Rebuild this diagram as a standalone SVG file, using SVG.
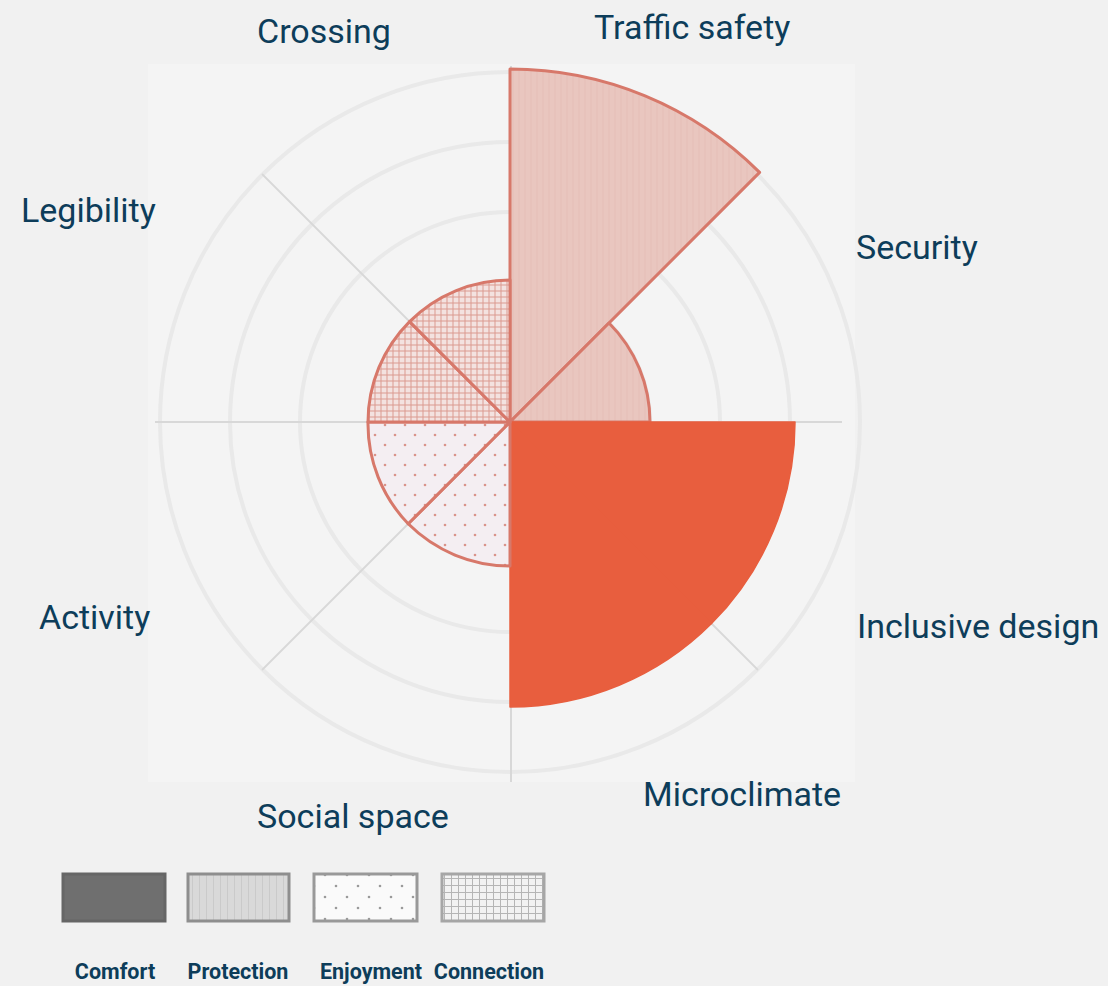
<svg xmlns="http://www.w3.org/2000/svg" width="1108" height="986" viewBox="0 0 1108 986">
<defs>
<style>
.lbl{font-family:Roboto,"Liberation Sans",sans-serif;font-size:34px;fill:#0d3d5a}
.leg{font-family:Roboto,"Liberation Sans",sans-serif;font-size:21.5px;font-weight:bold;fill:#0d3d5a;text-anchor:middle}
.ring{fill:none;stroke:#e9e9e9;stroke-width:4}
.axis{stroke:#d8d8d8;stroke-width:2}
.sec{stroke:#d7786a;stroke-width:3;stroke-linejoin:round}
.comfort{fill:#e85e3e;stroke:#e85e3e;stroke-width:1.5;stroke-linejoin:round}
.legbox{stroke-width:3}
</style>
<pattern id="pProt" width="6" height="6" patternUnits="userSpaceOnUse">
<rect width="6" height="6" fill="#e9c6bf"/>
<line x1="3" y1="0" x2="3" y2="6" stroke="#e5bfb7" stroke-width="1"/>
</pattern>
<pattern id="pEnj" width="20" height="20" patternUnits="userSpaceOnUse">
<rect width="20" height="20" fill="#f4eef2"/>
<circle cx="5" cy="5" r="1.3" fill="#d9938a"/>
<circle cx="15" cy="15" r="1.3" fill="#d9938a"/>
</pattern>
<pattern id="pCon" width="6" height="6" patternUnits="userSpaceOnUse">
<rect width="6" height="6" fill="#f3e2e0"/>
<path d="M3 0V6M0 3H6" stroke="#dc9a91" stroke-width="1"/>
</pattern>
<pattern id="lProt" width="7" height="7" patternUnits="userSpaceOnUse">
<rect width="7" height="7" fill="#d9d9d9"/>
<line x1="3.5" y1="0" x2="3.5" y2="7" stroke="#cacaca" stroke-width="1"/>
</pattern>
<pattern id="lEnj" width="22" height="22" patternUnits="userSpaceOnUse">
<rect width="22" height="22" fill="#fafafa"/>
<circle cx="6" cy="6" r="1.3" fill="#9a9a9a"/>
<circle cx="17" cy="17" r="1.3" fill="#9a9a9a"/>
</pattern>
<pattern id="lCon" width="7" height="7" patternUnits="userSpaceOnUse">
<rect width="7" height="7" fill="#f2f2f2"/>
<path d="M3.5 0V7M0 3.5H7" stroke="#b5b5b5" stroke-width="1"/>
</pattern>
</defs>
<rect width="1108" height="986" fill="#f1f1f1"/>
<rect x="148" y="64" width="707" height="718" fill="#f4f4f4"/>

<g id="grid">
<circle class="ring" cx="510" cy="422" r="70"/>
<circle class="ring" cx="510" cy="422" r="140"/>
<circle class="ring" cx="510" cy="422" r="210"/>
<circle class="ring" cx="510" cy="422" r="280"/>
<circle class="ring" cx="510" cy="422" r="350"/>
<line class="axis" x1="155" y1="422" x2="842" y2="422"/>
<line class="axis" x1="511" y1="66" x2="511" y2="782"/>
<line class="axis" x1="262" y1="174" x2="758" y2="670"/>
<line class="axis" x1="262" y1="670" x2="758" y2="174"/>
</g>

<g id="connectors"></g>

<g id="sector-traffic-safety"><path class="sec" fill="url(#pProt)" d="M510 422 L510 69 A353 353 0 0 1 759.6 172.4 Z"/></g>
<g id="sector-security"><path class="sec" fill="url(#pProt)" d="M510 422 L609 323 A140 140 0 0 1 650 422 Z"/></g>
<g id="sector-inclusive-design"><path class="comfort" d="M510 422 L795 422 A285 285 0 0 1 711.5 623.5 Z"/></g>
<g id="sector-microclimate"><path class="comfort" d="M510 422 L711.5 623.5 A285 285 0 0 1 510 707 Z"/></g>
<g id="sector-social-space"><path class="sec" fill="url(#pEnj)" d="M510 422 L510 566 A144 144 0 0 1 408.2 523.8 Z"/></g>
<g id="sector-activity"><path class="sec" fill="url(#pEnj)" d="M510 422 L408.2 523.8 A144 144 0 0 1 368 422 Z"/></g>
<g id="sector-legibility"><path class="sec" fill="url(#pCon)" d="M510 422 L368 422 A142 142 0 0 1 409.6 321.6 Z"/></g>
<g id="sector-crossing"><path class="sec" fill="url(#pCon)" d="M510 422 L409.6 321.6 A142 142 0 0 1 510 280 Z"/></g>

<g id="labels">
<text class="lbl" x="257" y="43">Crossing</text>
<text class="lbl" x="594" y="39">Traffic safety</text>
<text class="lbl" x="21" y="222">Legibility</text>
<text class="lbl" x="856" y="259">Security</text>
<text class="lbl" x="39" y="629">Activity</text>
<text class="lbl" x="857" y="638">Inclusive design</text>
<text class="lbl" x="643" y="806">Microclimate</text>
<text class="lbl" x="257" y="828">Social space</text>
</g>

<g id="legend-comfort">
<rect class="legbox" x="63" y="874" width="102" height="47" fill="#6f6f6f" stroke="#666"/>
<text class="leg" x="115" y="979">Comfort</text>
</g>
<g id="legend-protection">
<rect class="legbox" x="188" y="874" width="101" height="47" fill="url(#lProt)" stroke="#8e8e8e"/>
<text class="leg" x="238" y="979">Protection</text>
</g>
<g id="legend-enjoyment">
<rect class="legbox" x="314" y="874" width="103" height="47" fill="url(#lEnj)" stroke="#999"/>
<text class="leg" x="371" y="979">Enjoyment</text>
</g>
<g id="legend-connection">
<rect class="legbox" x="442" y="874" width="102" height="47" fill="url(#lCon)" stroke="#a6a6a6"/>
<text class="leg" x="489" y="979">Connection</text>
</g>
</svg>
